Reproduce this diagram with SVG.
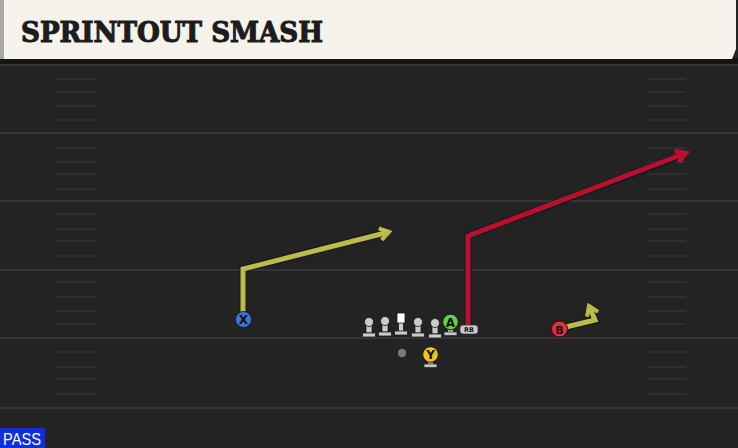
<svg xmlns="http://www.w3.org/2000/svg" width="738" height="448" viewBox="0 0 738 448">
<style>
.yard{stroke:#353535;stroke-width:2}
.hash{stroke:#333333;stroke-width:1.5}
.rt-y{fill:none;stroke:#bdbb4c;stroke-width:5;stroke-linejoin:miter}
.rt-r{fill:none;stroke:#b8102e;stroke-width:5;stroke-linejoin:miter}
.rt-o{fill:none;stroke:#0e1a1a;stroke-width:7;stroke-linejoin:miter}
.lm{fill:#cbcbcb;stroke:#1a1a1a;stroke-width:0.8}
.lbl{font-family:"DejaVu Sans","Liberation Sans",sans-serif;font-weight:bold;text-anchor:middle;fill:#111}
</style>
<defs>
<marker id="ay" markerUnits="userSpaceOnUse" markerWidth="20" markerHeight="20" orient="auto" overflow="visible" refX="0" refY="0">
<path d="M-9,-6 L0,0 L-9,6" fill="none" stroke="#bdbb4c" stroke-width="4"/>
</marker>
<marker id="ar" markerUnits="userSpaceOnUse" markerWidth="20" markerHeight="20" orient="auto" overflow="visible" refX="0" refY="0">
<path d="M-10,-6 L0,0 L-10,6" fill="none" stroke="#b8102e" stroke-width="4.5"/>
</marker>
<g id="lineman">
<rect x="-3" y="0" width="6" height="11" class="lm"/>
<rect x="-6.5" y="11" width="13" height="4" rx="1" class="lm"/>
<circle cx="0" cy="0" r="4.5" class="lm"/>
</g>
<g id="pbase">
<rect x="-2.5" y="0" width="5" height="4" fill="#bdbdbd"/>
<rect x="-6.5" y="3" width="13" height="3.5" rx="1" fill="#c4c4c4" stroke="#1a1a1a" stroke-width="0.6"/>
</g>
</defs>

<rect x="0" y="0" width="738" height="448" fill="#232323"/>

<g id="field">
<line class="yard" x1="0" y1="65" x2="738" y2="65"/>
<line class="yard" x1="0" y1="133" x2="738" y2="133"/>
<line class="yard" x1="0" y1="201" x2="738" y2="201"/>
<line class="yard" x1="0" y1="270" x2="738" y2="270"/>
<line class="yard" x1="0" y1="338" x2="738" y2="338"/>
<line class="yard" x1="0" y1="408" x2="738" y2="408"/>
<g class="hash">
<line x1="56" y1="79" x2="96" y2="79"/><line x1="56" y1="92" x2="96" y2="92"/><line x1="56" y1="106" x2="96" y2="106"/><line x1="56" y1="120" x2="96" y2="120"/>
<line x1="56" y1="148" x2="96" y2="148"/><line x1="56" y1="162" x2="96" y2="162"/><line x1="56" y1="174" x2="96" y2="174"/><line x1="56" y1="189" x2="96" y2="189"/>
<line x1="56" y1="214" x2="96" y2="214"/><line x1="56" y1="229" x2="96" y2="229"/><line x1="56" y1="241" x2="96" y2="241"/><line x1="56" y1="256" x2="96" y2="256"/>
<line x1="56" y1="282" x2="96" y2="282"/><line x1="56" y1="297" x2="96" y2="297"/><line x1="56" y1="311" x2="96" y2="311"/><line x1="56" y1="324" x2="96" y2="324"/>
<line x1="56" y1="352" x2="96" y2="352"/><line x1="56" y1="367" x2="96" y2="367"/><line x1="56" y1="379" x2="96" y2="379"/><line x1="56" y1="394" x2="96" y2="394"/>
<line x1="647" y1="79" x2="686" y2="79"/><line x1="647" y1="92" x2="686" y2="92"/><line x1="647" y1="106" x2="686" y2="106"/><line x1="647" y1="120" x2="686" y2="120"/>
<line x1="647" y1="148" x2="686" y2="148"/><line x1="647" y1="162" x2="686" y2="162"/><line x1="647" y1="174" x2="686" y2="174"/><line x1="647" y1="189" x2="686" y2="189"/>
<line x1="647" y1="214" x2="686" y2="214"/><line x1="647" y1="229" x2="686" y2="229"/><line x1="647" y1="241" x2="686" y2="241"/><line x1="647" y1="256" x2="686" y2="256"/>
<line x1="647" y1="282" x2="686" y2="282"/><line x1="647" y1="297" x2="686" y2="297"/><line x1="647" y1="311" x2="686" y2="311"/><line x1="647" y1="324" x2="686" y2="324"/>
<line x1="647" y1="352" x2="686" y2="352"/><line x1="647" y1="367" x2="686" y2="367"/><line x1="647" y1="379" x2="686" y2="379"/><line x1="647" y1="394" x2="686" y2="394"/>
</g>
</g>

<g id="header">
<rect x="0" y="58" width="738" height="6" fill="#141414"/>
<path d="M0,0 H736 V49 L732,59 H0 Z" fill="#f5f2eb"/>
<rect x="0" y="0" width="4" height="59" fill="#a8a8a4"/>
<text x="21" y="42" font-family="'DejaVu Serif','Liberation Serif',serif" font-weight="bold" font-size="28" fill="#1c1c1c" stroke="#1c1c1c" stroke-width="1.1" textLength="302" lengthAdjust="spacingAndGlyphs">SPRINTOUT SMASH</text>
</g>

<g id="connectors">
<polyline class="rt-o" points="243,312 243,269 388,232"/>
<polyline class="rt-y" points="243,312 243,269 389,232" marker-end="url(#ay)"/>
<polyline class="rt-o" points="468,326 468,236 685,154"/>
<polyline class="rt-r" points="468,326 468,236 686,153" marker-end="url(#ar)"/>
<polyline class="rt-o" points="566,327 595,320 589,307"/>
<polyline class="rt-y" points="566,327 595,320 589,306" marker-end="url(#ay)"/>
</g>

<g id="lt"><use href="#lineman" x="369" y="322"/></g>
<g id="lg"><use href="#lineman" x="385" y="321"/></g>
<g id="c">
<rect x="398.5" y="322" width="5" height="10" class="lm"/>
<rect x="394.5" y="331" width="13" height="4" rx="1" class="lm"/>
<rect x="397" y="313" width="8" height="10" fill="#ffffff" stroke="#1a1a1a" stroke-width="0.8"/>
</g>
<g id="rg"><use href="#lineman" x="418" y="322"/></g>
<g id="rt"><use href="#lineman" x="435" y="323"/></g>

<g id="qb"><circle cx="402" cy="353" r="4.2" fill="#7a7a7a"/></g>

<g id="A">
<use href="#pbase" x="450.5" y="329"/>
<circle cx="450.5" cy="322" r="7.8" fill="#62d43c" stroke="#1a1a1a" stroke-width="1"/>
<text class="lbl" x="450.5" y="326.5" font-size="12">A</text>
</g>

<g id="RB">
<rect x="460" y="325" width="18" height="9" rx="3" fill="#c9c9c9" stroke="#3a3a3a" stroke-width="0.8"/>
<text class="lbl" x="469" y="332" font-size="6.5" fill="#333">RB</text>
</g>

<g id="Y">
<use href="#pbase" x="430.5" y="361"/>
<circle cx="430.5" cy="354.5" r="7.8" fill="#f0c21c" stroke="#1a1a1a" stroke-width="1"/>
<text class="lbl" x="430.5" y="359" font-size="12">Y</text>
</g>

<g id="X">
<circle cx="243.5" cy="319.5" r="8" fill="#3d74d8" stroke="#14203a" stroke-width="1"/>
<text class="lbl" x="243.5" y="324" font-size="12">X</text>
</g>

<g id="B">
<circle cx="559.5" cy="329" r="8" fill="#df3040" stroke="#3a0a10" stroke-width="1"/>
<text class="lbl" x="559.5" y="333.5" font-size="11" font-weight="normal">B</text>
</g>

<g id="pass">
<rect x="0" y="428" width="45" height="20" fill="#0f2ee0"/>
<text x="3" y="445" font-family="'Liberation Sans',Arial,sans-serif" font-size="16.5" fill="#ffffff" textLength="38" lengthAdjust="spacingAndGlyphs">PASS</text>
</g>
</svg>
